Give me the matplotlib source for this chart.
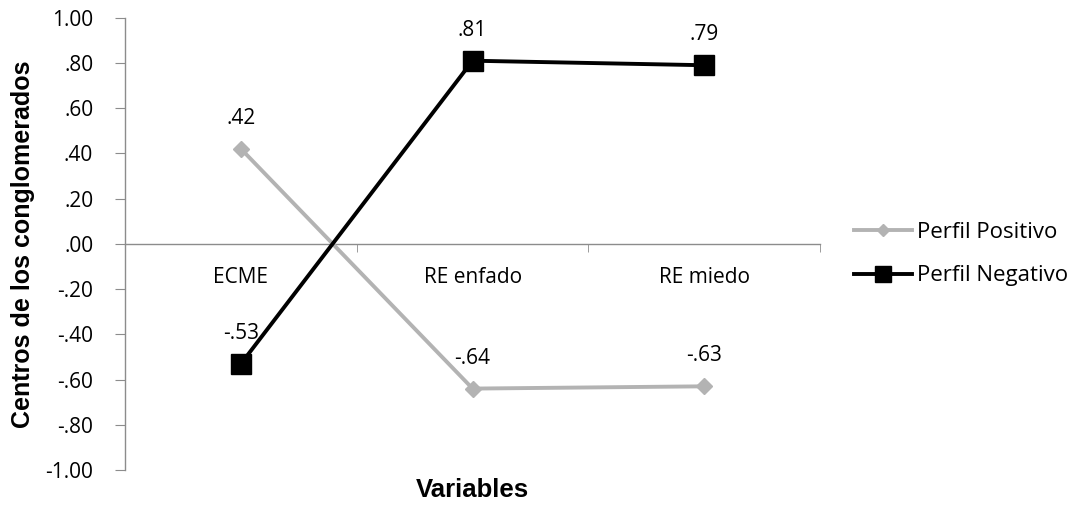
import matplotlib
matplotlib.use("Agg")
import matplotlib.pyplot as plt
from matplotlib.ticker import FuncFormatter

categories = ["ECME", "RE enfado", "RE miedo"]
perfil_positivo = [0.42, -0.64, -0.63]
perfil_negativo = [-0.53, 0.81, 0.79]
y_ticks = [1.0, 0.8, 0.6, 0.4, 0.2, 0.0, -0.2, -0.4, -0.6, -0.8, -1.0]

LABEL_FONT = "Open Sans"
AXIS_GRAY = "#8c8c8c"


def fmt(v, _pos=None):
    s = f"{v:.2f}"
    if s.startswith("0"):
        s = s[1:]
    elif s.startswith("-0"):
        s = "-" + s[2:]
    return s


fig = plt.figure(figsize=(10.79, 5.07), dpi=100)
ax = fig.add_axes([0.116, 0.073, 0.644, 0.892])

x = list(range(len(categories)))
ax.plot(x, perfil_positivo, color="#b3b3b3", lw=2.8, marker="D", ms=8,
        label="Perfil Positivo", zorder=3)
ax.plot(x, perfil_negativo, color="black", lw=2.8, marker="s", ms=14.5,
        label="Perfil Negativo", zorder=4)

for series in (perfil_positivo, perfil_negativo):
    for xi, v in zip(x, series):
        ax.annotate(fmt(v), (xi, v), xytext=(0, 22), textcoords="offset points",
                    ha="center", va="center", fontsize=15, family=LABEL_FONT)

ax.set_xlim(-0.5, len(categories) - 0.5)
ax.set_ylim(-1.0, 1.0)
ax.set_yticks(y_ticks)
ax.yaxis.set_major_formatter(FuncFormatter(fmt))
ax.set_xticks(x)
ax.set_xticklabels(categories)
ax.set_xticks([0.5, 1.5, 2.5], minor=True)

for side in ["top", "right"]:
    ax.spines[side].set_visible(False)
ax.spines["bottom"].set_position(("data", 0))
for side in ["left", "bottom"]:
    ax.spines[side].set_color(AXIS_GRAY)
    ax.spines[side].set_linewidth(1.0)

ax.tick_params(axis="y", direction="out", length=7, color=AXIS_GRAY,
               labelsize=15, pad=16)
ax.tick_params(axis="x", which="major", length=0, labelsize=15, pad=17)
ax.tick_params(axis="x", which="minor", direction="out", length=6,
               color=AXIS_GRAY)
for lbl in ax.get_xticklabels() + ax.get_yticklabels():
    lbl.set_family(LABEL_FONT)

ax.set_ylabel("Centros de los conglomerados", fontsize=18, fontweight="bold",
              family="Liberation Sans")
ax.yaxis.set_label_coords(-0.147, 0.5)
ax.yaxis.label.set_va("center")
ax.set_xlabel("Variables", fontsize=18.5, fontweight="bold",
              family="Liberation Sans")
ax.xaxis.set_label_coords(0.5, -0.044)
ax.xaxis.label.set_va("center")

ax.legend(loc="center left", bbox_to_anchor=(1.02, 0.477), frameon=False,
          prop={"family": LABEL_FONT, "size": 16}, handlelength=2.6,
          handletextpad=0.25, labelspacing=1.0, markerscale=0.8)

fig.savefig("out.png", dpi=100)
